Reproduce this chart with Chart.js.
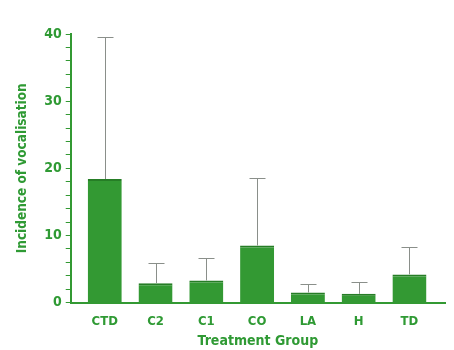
<!DOCTYPE html>
<html>
<head>
<meta charset="utf-8">
<script src="https://cdn.jsdelivr.net/npm/chart.js@4/dist/chart.umd.min.js"></script>
<style>
  html, body { margin: 0; padding: 0; background: #ffffff; }
  #wrap { width: 454px; height: 350px; }
</style>
</head>
<body>
<div id="wrap"><canvas id="c" width="454" height="350"></canvas></div>
<script>
// Treatment groups and mean incidence of vocalisation
const categories = ['CTD', 'C2', 'C1', 'CO', 'LA', 'H', 'TD'];
const means = [18.4, 2.9, 3.3, 8.5, 1.5, 1.3, 4.2];
// Upper error amounts drawn above each bar
const errorSizes = [21.1, 3.0, 3.3, 10.0, 1.3, 1.8, 4.1];
const yMin = 0;
const yMax = 40;
const yStep = 2;
const yLabelEvery = 10;

const GREEN = '#339933';
const TEXT_GREEN = '#2f9a34';
const FONT = '"DejaVu Sans Condensed", "DejaVu Sans", sans-serif';

const errorBarPlugin = {
  id: 'errorBars',
  afterDatasetsDraw(chart) {
    const ctx = chart.ctx;
    const xs = chart.scales.x;
    const ys = chart.scales.y;
    ctx.save();
    ctx.strokeStyle = '#8a8f8a';
    ctx.lineWidth = 1;
    means.forEach((m, i) => {
      const x = Math.round(xs.getPixelForValue(i)) + 0.5;
      const yBase = ys.getPixelForValue(m);
      const yTop = Math.round(ys.getPixelForValue(m + errorSizes[i])) + 0.5;
      ctx.beginPath();
      ctx.moveTo(x, yBase);
      ctx.lineTo(x, yTop);
      ctx.moveTo(x - 8, yTop);
      ctx.lineTo(x + 8, yTop);
      ctx.stroke();
    });
    ctx.restore();
  }
};

new Chart(document.getElementById('c'), {
  type: 'bar',
  data: {
    datasets: [{
      data: means.map((v, i) => ({ x: i, y: v })),
      backgroundColor: GREEN,
      borderColor: '#267d26',
      borderWidth: { top: 2, left: 0, right: 0, bottom: 0 },
      barPercentage: 1,
      categoryPercentage: 0.67
    }]
  },
  options: {
    responsive: false,
    animation: false,
    layout: { padding: { top: 34, right: 9, left: 14, bottom: 0 } },
    plugins: {
      legend: { display: false },
      tooltip: { enabled: false }
    },
    scales: {
      x: {
        type: 'linear',
        offset: false,
        min: -0.67,
        max: 6.7,
        grid: { display: true, drawOnChartArea: false, drawTicks: false },
        border: { display: true, color: GREEN, width: 2 },
        ticks: {
          stepSize: 1,
          includeBounds: false,
          autoSkip: false,
          maxRotation: 0,
          padding: 11,
          color: TEXT_GREEN,
          font: { family: FONT, size: 13, weight: 'bold' },
          callback: (v) => (Number.isInteger(v) && categories[v] !== undefined) ? categories[v] : ''
        },
        title: {
          display: true,
          text: 'Treatment Group',
          color: TEXT_GREEN,
          font: { family: FONT, size: 14, weight: 'bold' },
          padding: { top: -7, bottom: 0 }
        }
      },
      y: {
        min: yMin,
        max: yMax,
        grid: { display: true, drawOnChartArea: false, drawTicks: true, tickLength: 5, color: GREEN },
        border: { display: true, color: GREEN, width: 2 },
        ticks: {
          stepSize: yStep,
          autoSkip: false,
          padding: 4,
          color: TEXT_GREEN,
          font: { family: FONT, size: 14, weight: 'bold' },
          callback: (v) => (v % yLabelEvery === 0) ? v : ''
        },
        title: {
          display: true,
          text: 'Incidence of vocalisation',
          color: TEXT_GREEN,
          font: { family: FONT, size: 13.5, weight: 'bold' },
          padding: { top: 0, bottom: 10 }
        }
      }
    }
  },
  plugins: [errorBarPlugin]
});
</script>
</body>
</html>
